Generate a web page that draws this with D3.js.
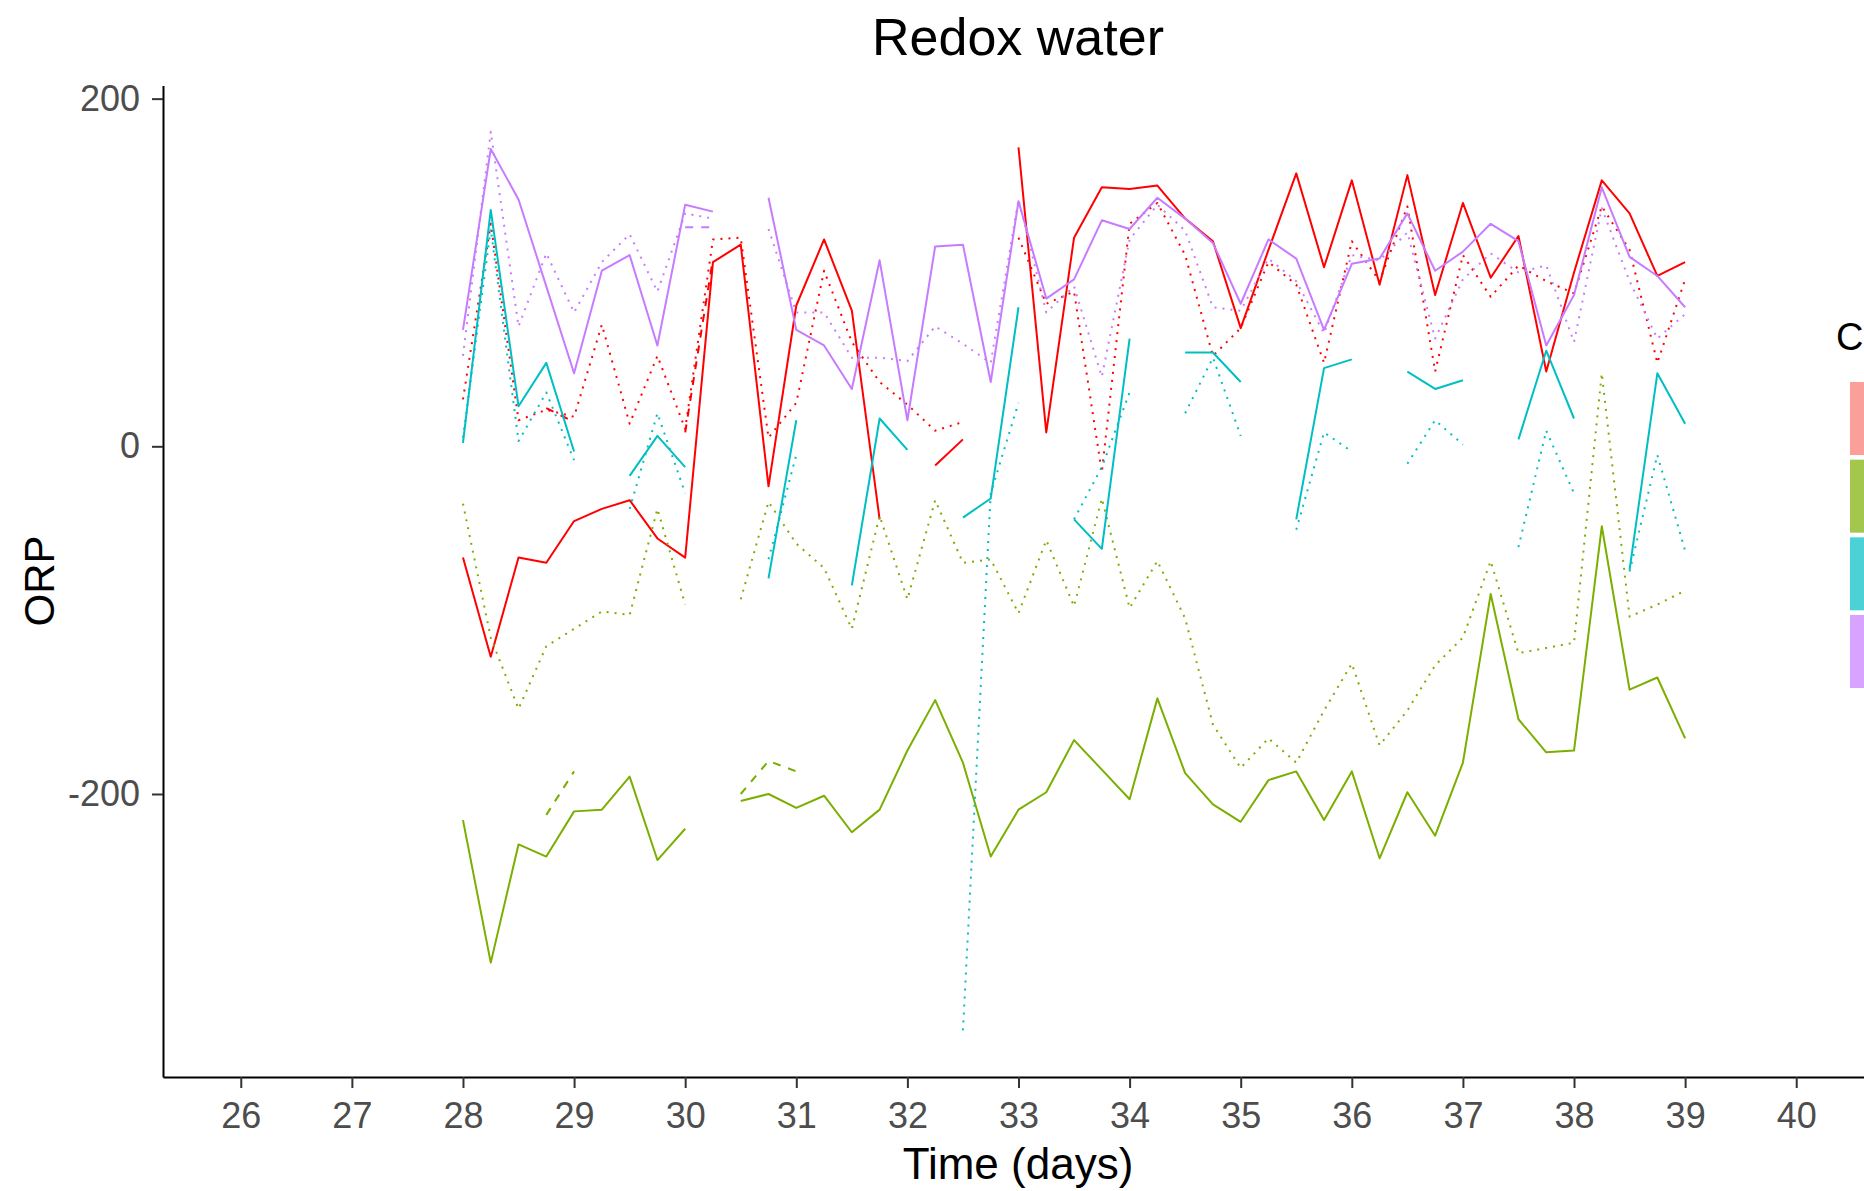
<!DOCTYPE html>
<html><head><meta charset="utf-8">
<script src="https://cdn.jsdelivr.net/npm/d3@7"></script>
<style>
body{margin:0;background:#fff;overflow:hidden;}
svg{display:block;}
text{font-family:"Liberation Sans", Arial, sans-serif;}
</style>
</head><body>
<svg id="chart" width="1864" height="1191"></svg>
<script>
// ---- data ----
const days = [28,28.25,28.5,28.75,29,29.25,29.5,29.75,30,30.25,30.5,30.75,31,31.25,31.5,31.75,32,32.25,32.5,32.75,33,33.25,33.5,33.75,34,34.25,34.5,34.75,35,35.25,35.5,35.75,36,36.25,36.5,36.75,37,37.25,37.5,37.75,38,38.25,38.5,38.75,39];
const xTicks = [26,27,28,29,30,31,32,33,34,35,36,37,38,39,40];
const yTicks = [-200,0,200];
const groups = ["C1","C2","C3","C4"];

const redSolid = [-64,-121,-64,-67,-43,-36,-31,-53,-64,106,116,-23,81,119,78,-42,null,-11,4,null,172,8,120,149,148,150,131,118,68,113,157,103,153,93,156,87,140,97,121,43,100,153,134,98,106];
const redDotted = [27,128,15,21,17,70,13,52,10,119,120,5,25,101,60,37,24,9,14,null,120,82,89,-15,128,140,110,52,68,106,93,48,118,95,138,43,110,86,104,95,88,138,113,48,96];
const redDashed = [null,null,null,22,14,null,null,null,8,108,null,null,null,null,null,null,null,null,null,null,null,null,null,null,null,null,null,null,null,null,null,null,null,null,null,null,null,null,null,null,null,null,null,null,null];

const greenSolid = [-215,-297,-229,-236,-210,-209,-190,-238,-220,null,-204,-200,-208,-201,-222,-209,-175,-146,-182,-236,-209,-199,-169,-186,-203,-145,-188,-206,-216,-192,-187,-215,-187,-237,-199,-224,-182,-85,-157,-176,-175,-46,-140,-133,-168];
const greenDotted = [-33,-110,-151,-115,-105,-95,-97,-36,-91,null,-88,-32,-56,-70,-105,-40,-88,-31,-67,-65,-96,-54,-92,-30,-93,-66,-99,-160,-185,-168,-182,-152,-125,-172,-152,-126,-110,-66,-119,-116,-113,42,-98,-91,-83];
const greenDashed = [null,null,null,-212,-187,null,null,null,null,null,-200,-181,-187,null,null,null,null,null,null,null,null,null,null,null,null,null,null,null,null,null,null,null,null,null,null,null,null,null,null,null,null,null,null,null,null];

const tealSolid = [2,136,23,48,-3,null,-17,6,-12,null,null,-76,15,null,-80,16,-2,null,-41,-30,80,null,-42,-59,62,null,54,54,37,null,-42,45,50,null,43,33,38,null,4,55,16,null,-71,42,13];
const tealDotted = [5,125,3,31,-8,null,-36,19,-27,null,null,-65,-5,null,null,null,null,null,-336,-27,25,null,-42,-12,31,null,19,51,6,null,-48,8,-3,null,-10,15,1,null,-58,9,-27,null,-72,-5,-60];

const purpleSolid = [67,171,142,92,42,101,110,58,139,135,null,143,67,58,33,107,15,115,116,37,141,85,96,130,125,143,131,117,82,119,108,67,105,108,134,101,112,128,118,58,87,149,109,98,80];
const purpleDotted = [52,181,69,111,77,106,122,89,134,131,null,125,77,77,51,51,49,69,59,48,142,77,92,40,119,139,124,80,78,108,95,65,110,107,123,62,96,111,100,104,60,137,95,62,76];
const purpleDashed = [null,null,null,null,null,null,null,null,126,126,null,null,null,null,null,null,null,null,null,null,null,null,null,null,null,null,null,null,null,null,null,null,null,null,null,null,null,null,null,null,null,null,null,null,null];

// ---- styles ----
const lineColors = ["#FF0000","#7CAE00","#00BFC4","#C77CFF"];
const fillColors = ["#F8766D","#7CAE00","#00BFC4","#C77CFF"];
const dashes = {solid:null, dotted:"2 6", dashed:"8 8"};

const series = [
  {g:0, type:"solid", values:redSolid},
  {g:0, type:"dotted", values:redDotted},
  {g:0, type:"dashed", values:redDashed},
  {g:1, type:"solid", values:greenSolid},
  {g:1, type:"dotted", values:greenDotted},
  {g:1, type:"dashed", values:greenDashed},
  {g:2, type:"solid", values:tealSolid},
  {g:2, type:"dotted", values:tealDotted},
  {g:3, type:"solid", values:purpleSolid},
  {g:3, type:"dotted", values:purpleDotted},
  {g:3, type:"dashed", values:purpleDashed}
];

const svg = d3.select("#chart");
const x = d3.scaleLinear().domain([25.3, 40.7]).range([163, 1874]);
const y = d3.scaleLinear().domain([-362.8, 207.5]).range([1077, 85.6]);

// lines
const line = d3.line()
  .defined(d => d.v !== null)
  .x(d => x(d.day))
  .y(d => y(d.v));

svg.append("g").selectAll("path")
  .data(series)
  .join("path")
  .attr("d", s => line(days.map((day, i) => ({day, v: s.values[i]}))))
  .attr("fill", "none")
  .attr("stroke", s => lineColors[s.g])
  .attr("stroke-width", 2)
  .attr("stroke-linejoin", "round")
  .attr("stroke-dasharray", s => dashes[s.type]);

// axes
const fmt = d => String(d);
const xAxis = svg.append("g")
  .attr("transform", "translate(0,1077)")
  .call(d3.axisBottom(x).tickValues(xTicks).tickFormat(fmt).tickSize(11).tickSizeOuter(0).tickPadding(14));
xAxis.select(".domain").attr("stroke", "#000").attr("stroke-width", 2);
xAxis.selectAll(".tick line").attr("stroke", "#333").attr("stroke-width", 2);
xAxis.selectAll(".tick text").attr("fill", "#4D4D4D").attr("font-size", 36)
  .style("font-family", "'Liberation Sans', Arial, sans-serif");

const yAxis = svg.append("g")
  .attr("transform", "translate(163,0)")
  .call(d3.axisLeft(y).tickValues(yTicks).tickFormat(fmt).tickSize(11).tickSizeOuter(0).tickPadding(12));
yAxis.select(".domain").attr("stroke", "#000").attr("stroke-width", 2);
yAxis.selectAll(".tick line").attr("stroke", "#333").attr("stroke-width", 2);
yAxis.selectAll(".tick text").attr("fill", "#4D4D4D").attr("font-size", 36)
  .style("font-family", "'Liberation Sans', Arial, sans-serif");

// titles
svg.append("text").attr("x", 1018).attr("y", 55).attr("text-anchor", "middle")
  .attr("font-size", 52).attr("fill", "#000").text("Redox water");
svg.append("text").attr("x", 1018).attr("y", 1179).attr("text-anchor", "middle")
  .attr("font-size", 44).attr("fill", "#000").text("Time (days)");
svg.append("text").attr("transform", "translate(54,581) rotate(-90)").attr("text-anchor", "middle")
  .attr("font-size", 42).attr("fill", "#000").text("ORP");

// legend (its keys run off the right edge, as in the reference)
const leg = svg.append("g");
leg.append("text").attr("x", 1836).attr("y", 350).attr("font-size", 38).attr("fill", "#000").text("C");
const keyY = d3.scaleBand().domain(groups).range([382, 688]).paddingInner(0.06);
leg.selectAll("rect").data(groups).join("rect")
  .attr("x", 1850).attr("width", 40)
  .attr("y", d => keyY(d)).attr("height", keyY.bandwidth())
  .attr("fill", (d, i) => fillColors[i]).attr("fill-opacity", 0.7);
</script>
</body></html>
